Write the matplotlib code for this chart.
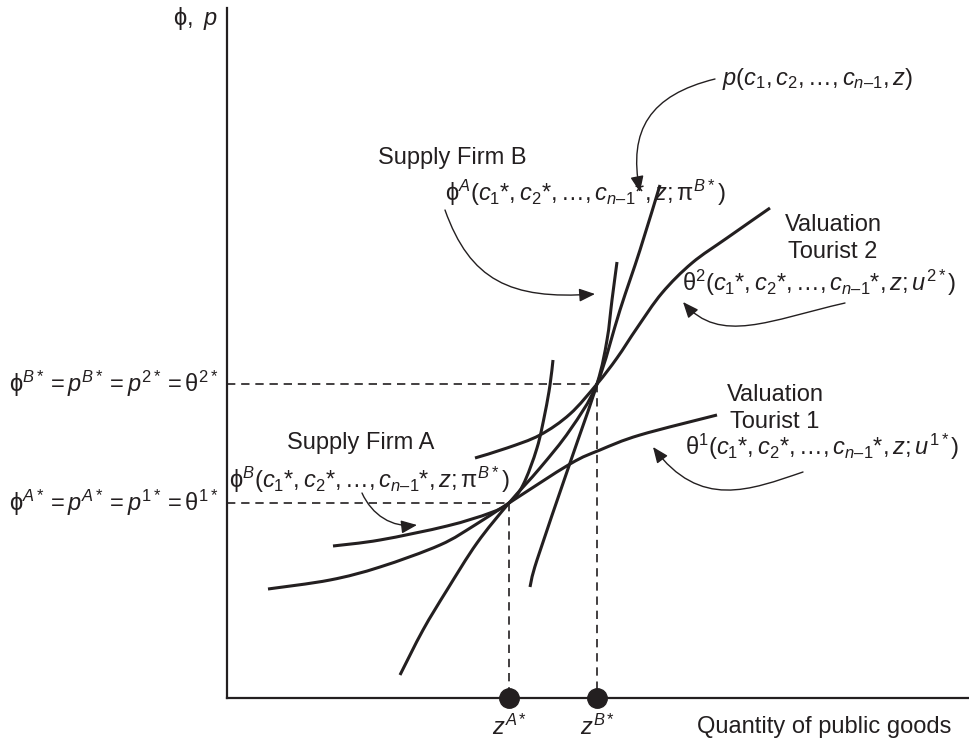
import numpy as np
import matplotlib
matplotlib.use("Agg")
import matplotlib.pyplot as plt
from matplotlib.path import Path
from matplotlib.patches import PathPatch, FancyArrowPatch

plt.rcParams['font.family'] = ['Liberation Sans', 'DejaVu Sans']
plt.rcParams['mathtext.fontset'] = 'custom'
plt.rcParams['mathtext.rm'] = 'Liberation Sans'
plt.rcParams['mathtext.it'] = 'Liberation Sans:italic'
plt.rcParams['mathtext.bf'] = 'Liberation Sans:bold'
plt.rcParams['mathtext.fallback'] = 'stixsans'

# equilibrium quantities / prices for firm A and firm B
z_star = [282, 370]
p_star = [195, 314]

# traced curves, (quantity, price)
tourist1_z = [41, 103, 153, 213, 248, 282, 343, 373, 413, 490]
tourist1_p = [109, 118, 131, 153, 173, 195, 234, 248, 263, 283]

firmA_z = [106, 153, 220, 263, 282, 296, 310, 318, 323, 326]
firmA_p = [152, 158, 172, 185, 195, 213, 250, 285, 313, 338]

price_z = [173, 196, 220, 250, 282, 313, 343, 370, 393, 413, 433]
price_p = [23, 68, 108, 155, 195, 230, 268, 314, 388, 448, 513]

firmB_z = [303, 310, 343, 370, 380, 385, 390]
firmB_p = [111, 138, 235, 314, 358, 398, 436]

tourist2_z = [248, 280, 313, 343, 370, 390, 410, 435, 465, 500, 543]
tourist2_p = [240, 250, 263, 284, 314, 340, 370, 405, 435, 460, 490]

FS = 17
TC = '#231f20'


def smooth_path(xs, ys):
    # Catmull-Rom through the traced points, as cubic Bezier segments
    pts = np.column_stack([xs, ys]).astype(float)
    ext = np.vstack([pts[0], pts, pts[-1]])
    verts = [pts[0]]
    codes = [Path.MOVETO]
    for i in range(1, len(ext) - 2):
        p0, p1, p2, p3 = ext[i - 1], ext[i], ext[i + 1], ext[i + 2]
        verts += [p1 + (p2 - p0) / 6, p2 - (p3 - p1) / 6, p2]
        codes += [Path.CURVE4] * 3
    return Path(verts, codes)


def curved_arrow(ax, pts):
    path = Path(pts, [Path.MOVETO, Path.CURVE4, Path.CURVE4, Path.CURVE4])
    ax.add_patch(FancyArrowPatch(path=path, arrowstyle='-|>,head_length=0.6,head_width=0.25',
                                 mutation_scale=16, lw=1.0, color=TC, shrinkA=0, shrinkB=0))


def label(x, y, s, ha='left'):
    ax.text(x, y, s, fontsize=FS, ha=ha, va='center', color=TC)


fig = plt.figure(figsize=(9.7, 7.4), dpi=100)
ax = fig.add_axes([0, 0, 1, 1])
ax.set_xlim(-227, 743)
ax.set_ylim(-42, 698)
for s in ['top', 'right']:
    ax.spines[s].set_visible(False)
ax.spines['left'].set_position(('data', 0))
ax.spines['bottom'].set_position(('data', 0))
ax.spines['left'].set_bounds(0, 690)
ax.spines['bottom'].set_bounds(0, 743)
for s in ['left', 'bottom']:
    ax.spines[s].set_linewidth(1.6)
    ax.spines[s].set_color(TC)
ax.set_xticks([])
ax.set_yticks([])

# supply and valuation curves plus the price schedule
for zs, ps in [(tourist1_z, tourist1_p), (firmA_z, firmA_p), (price_z, price_p),
               (firmB_z, firmB_p), (tourist2_z, tourist2_p)]:
    ax.add_patch(PathPatch(smooth_path(zs, ps), fill=False, lw=2.2,
                           edgecolor=TC, capstyle='butt'))

# guide lines to the axes
for z, p in zip(z_star, p_star):
    ax.plot([0, z], [p, p], ls=(0, (5, 3.5)), lw=1.2, color=TC)
    ax.plot([z, z], [p, 0], ls=(0, (5, 3.5)), lw=1.2, color=TC)
ax.plot(z_star, [0, 0], 'o', ms=14, color=TC, zorder=5, clip_on=False)

# arrows from labels to curves
curved_arrow(ax, [(488, 619), (423, 603), (401, 568), (413, 506)])
curved_arrow(ax, [(218, 488), (243, 418), (283, 398), (368, 404)])
curved_arrow(ax, [(135, 205), (145, 183), (165, 170), (190, 173)])
curved_arrow(ax, [(618, 395), (543, 378), (493, 353), (456, 396)])
curved_arrow(ax, [(576, 226), (523, 208), (473, 188), (426, 251)])

args = r'(c_1{*},c_2{*},\ldots,c_{n–1}{*},z;'
label(-9, 680, r'$\mathrm{\phi},\ p$', ha='right')
label(495, 619, r'$p(c_1,c_2,\ldots,c_{n–1},z)$')
label(151, 540, 'Supply Firm B')
label(218, 505, r'$\mathrm{\phi}^{A}' + args + r'\mathrm{\pi}^{B*})$')
label(606, 473, 'Valuation', ha='center')
label(606, 446, 'Tourist 2', ha='center')
label(455, 415, r'$\mathrm{\theta}^{2}' + args + r'u^{2*})$')
label(-9, 314, r'$\mathrm{\phi}^{B*}=p^{B*}=p^{2*}=\mathrm{\theta}^{2*}$', ha='right')
label(-9, 195, r'$\mathrm{\phi}^{A*}=p^{A*}=p^{1*}=\mathrm{\theta}^{1*}$', ha='right')
label(60, 255, 'Supply Firm A')
label(2, 218, r'$\mathrm{\phi}^{B}' + args + r'\mathrm{\pi}^{B*})$')
label(548, 303, 'Valuation', ha='center')
label(548, 276, 'Tourist 1', ha='center')
label(458, 251, r'$\mathrm{\theta}^{1}' + args + r'u^{1*})$')
label(z_star[0], -29, r'$z^{A*}$', ha='center')
label(z_star[1], -29, r'$z^{B*}$', ha='center')
label(470, -29, 'Quantity of public goods')

fig.savefig('out.png', dpi=100)
